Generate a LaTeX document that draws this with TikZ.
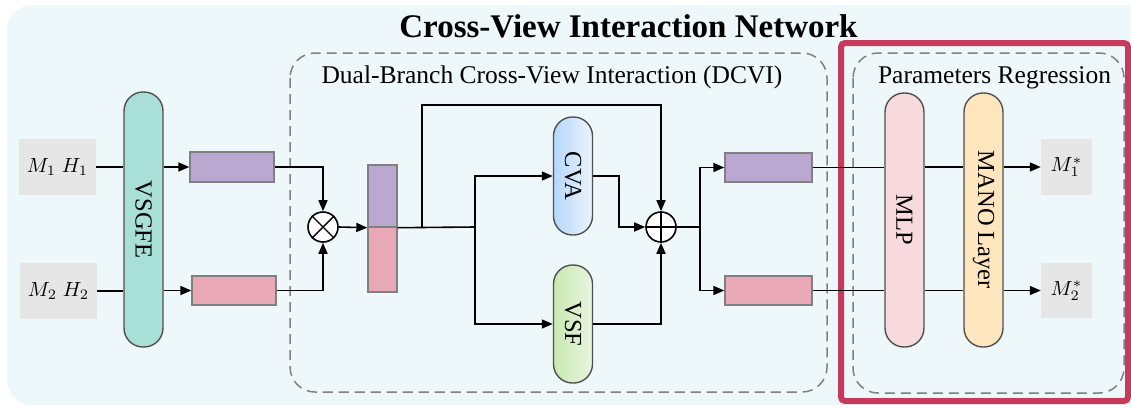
\documentclass[tikz,border=0pt]{standalone}
\usepackage{fontspec}
\setmainfont{Liberation Serif}
\usetikzlibrary{arrows.meta,calc}
\definecolor{bgc}{RGB}{238,247,250}
\definecolor{inboxc}{RGB}{230,230,230}
\definecolor{tealc}{RGB}{168,224,216}
\definecolor{purc}{RGB}{187,168,208}
\definecolor{pinkc}{RGB}{232,168,182}
\definecolor{mlpc}{RGB}{248,218,222}
\definecolor{manoc}{RGB}{255,230,190}
\definecolor{cvaL}{RGB}{181,216,250}
\definecolor{cvaR}{RGB}{236,243,251}
\definecolor{vsfL}{RGB}{200,232,176}
\definecolor{vsfR}{RGB}{234,245,224}
\definecolor{bordc}{RGB}{80,80,80}
\definecolor{barc}{RGB}{128,128,128}
\definecolor{dashc}{RGB}{128,128,128}
\definecolor{redc}{RGB}{199,58,92}
\newcommand{\bigmath}[1]{\scalebox{2.05}{$#1$}}
\begin{document}
\begin{tikzpicture}[x=1pt,y=-1pt,
  arr/.style={-{Triangle[length=11pt,width=9pt]}, line width=1.6pt},
  ln/.style={line width=1.6pt},
  pill/.style={draw=bordc, line width=1.4pt, rounded corners=19pt, minimum width=39pt, inner sep=0pt, font=\fontsize{24.5}{29}\selectfont},
  bar/.style={draw=barc, line width=1.4pt, inner sep=0pt},
  inbox/.style={fill=inboxc, inner sep=0pt},
  lbl/.style={font=\fontsize{25.5}{30}\selectfont},
  dbox/.style={draw=dashc, dash pattern=on 10pt off 6pt, line width=1.5pt, rounded corners=25pt},
  circ/.style={circle, draw, line width=1.6pt, fill=white, minimum size=30pt, inner sep=0pt}
]
\useasboundingbox (0,0) rectangle (1131,407);
% background
\fill[bgc, rounded corners=25pt] (7,5) rectangle (1160,405);
\node[anchor=base, font=\fontsize{33}{38}\selectfont\bfseries] (title) at (628.5,37) {Cross-View Interaction Network};

% dashed boxes
\draw[dbox] (290,53) rectangle (827,392);
\node[lbl, anchor=base] (dcvi) at (552,83) {Dual-Branch Cross-View Interaction (DCVI)};
\draw[dbox] (853,53) rectangle (1124,393);
\node[lbl, anchor=base] (preg) at (994.5,83) {Parameters Regression};
% red highlight
\draw[redc, line width=6pt, rounded corners=4pt] (841,43) rectangle (1128,401);

% inputs
\node[inbox, minimum width=77pt, minimum height=56pt] (in1) at (57.5,167) {\bigmath{M_1\;H_1}};
\node[inbox, minimum width=77pt, minimum height=56pt] (in2) at (58.5,291) {\bigmath{M_2\;H_2}};

% VSGFE
\node[pill, fill=tealc, minimum height=255pt] (vsgfe) at (143.5,219.5) {\rotatebox{-90}{VSGFE}};

% bars
\node[bar, fill=purc, minimum width=84pt, minimum height=30pt] (p1) at (232,167) {};
\node[bar, fill=pinkc, minimum width=84pt, minimum height=29pt] (k1) at (234,290.5) {};

% otimes
\node[circ] (ot) at (323,227) {};
\draw[line width=1.4pt] (ot.north west) -- (ot.south east) (ot.north east) -- (ot.south west);

% concat bar
\node[bar, fill=purc, minimum width=29pt, minimum height=62pt] (cat1) at (382.5,196) {};
\node[bar, fill=pinkc, minimum width=29pt, minimum height=65pt] (cat2) at (382.5,259.5) {};

% CVA / VSF
\node[pill, left color=cvaL, right color=cvaR, minimum height=118pt] (cva) at (573,176) {\rotatebox{-90}{CVA}};
\node[pill, left color=vsfL, right color=vsfR, minimum height=118pt] (vsf) at (573,324) {\rotatebox{-90}{VSF}};

% oplus
\node[circ] (op) at (661,227) {};
\draw[line width=1.4pt] (op.north) -- (op.south) (op.west) -- (op.east);

% output bars
\node[bar, fill=purc, minimum width=87pt, minimum height=29pt] (p2) at (768.5,167.5) {};
\node[bar, fill=pinkc, minimum width=87pt, minimum height=29pt] (k2) at (768.5,290.5) {};

% MLP / MANO
\node[pill, fill=mlpc, minimum height=254pt] (mlp) at (904.5,220) {\rotatebox{-90}{MLP}};
\node[pill, fill=manoc, minimum height=254pt] (mano) at (983.5,220) {\rotatebox{-90}{MANO Layer}};

% outputs
\node[inbox, minimum width=51pt, minimum height=56pt] (out1) at (1066.5,167) {\bigmath{M_1^*}};
\node[inbox, minimum width=51pt, minimum height=55pt] (out2) at (1066.5,290.5) {\bigmath{M_2^*}};

% coordinates
\coordinate (j1) at (422,227);
\coordinate (t1) at (422,105);
\coordinate (br) at (475,227);
\coordinate (c1) at (619,176);
\coordinate (br2) at (700,227);

% connectors
\draw[ln] (in1.east) -- (in1.east -| vsgfe.west);
\draw[ln] (in2.east) -- (in2.east -| vsgfe.west);
\draw[arr] (vsgfe.east |- p1) -- (p1.west);
\draw[arr] (vsgfe.east |- k1) -- (k1.west);
\draw[arr] (p1.east) -| (ot.north);
\draw[arr] (k1.east) -| (ot.south);
\draw[arr] (ot.east) -- (cat1.south west);
\draw[ln] (cat1.south east) -- (br);
\draw[arr] (j1) -- (t1) -| (op.north);
\draw[arr] (br) |- (cva.west);
\draw[arr] (br) |- (vsf.west);
\draw[arr] (cva.east) -- (c1) |- (op.west);
\draw[arr] (vsf.east) -| (op.south);
\draw[ln] (op.east) -- (br2);
\draw[arr] (br2) |- (p2.west);
\draw[arr] (br2) |- (k2.west);
\draw[ln] (p2.east) -- (p2.east -| mlp.west);
\draw[ln] (k2.east) -- (k2.east -| mlp.west);
\draw[ln] (mlp.east |- out1) -- (mano.west |- out1);
\draw[ln] (mlp.east |- out2) -- (mano.west |- out2);
\draw[arr] (mano.east |- out1) -- (out1.west);
\draw[arr] (mano.east |- out2) -- (out2.west);
\end{tikzpicture}
\end{document}
